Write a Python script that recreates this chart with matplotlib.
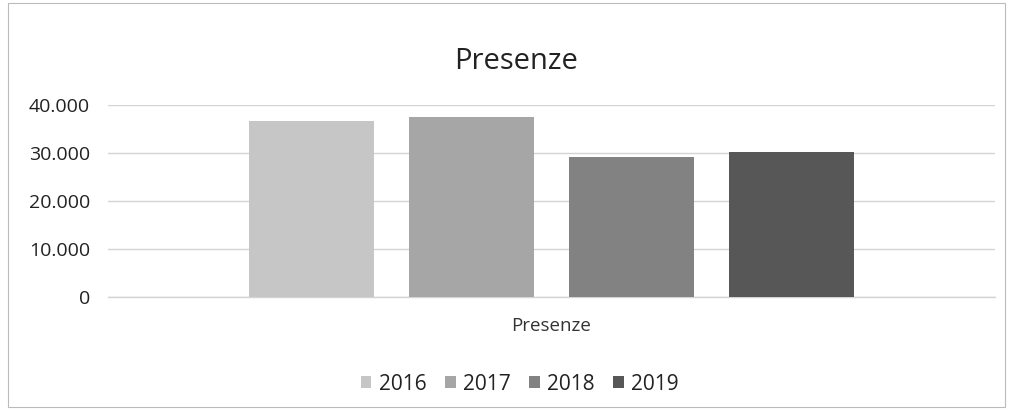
import matplotlib.pyplot as plt
from matplotlib.patches import Rectangle
from matplotlib.ticker import FuncFormatter

# Data
years = ["2016", "2017", "2018", "2019"]
presenze = [36700, 37400, 29100, 30200]
bar_colors = ["#c6c6c6", "#a6a6a6", "#828282", "#575757"]
y_ticks = [0, 10000, 20000, 30000, 40000]

plt.rcParams['font.family'] = ['Open Sans', 'DejaVu Sans']

fig = plt.figure(figsize=(10.09, 4.11), dpi=100)
ax = fig.add_axes([0.107, 0.277, 0.879, 0.468])

# one bar per year, all in the single "Presenze" category
for i, (year, val) in enumerate(zip(years, presenze)):
    ax.bar(i, val, width=0.78, color=bar_colors[i], label=year, zorder=3)

ax.set_xlim(-1.272, 4.272)
ax.set_ylim(0, 40000)
ax.set_yticks(y_ticks)
ax.yaxis.set_major_formatter(FuncFormatter(lambda v, p: f"{int(v):,}".replace(",", ".")))
ax.set_xticks([])
ax.tick_params(axis="y", length=0, labelsize=14, pad=13, labelcolor="#222222")
ax.grid(axis="y", color="#d4d4d4", linewidth=1, zorder=0)
ax.axhline(0, color="#d4d4d4", linewidth=1, zorder=1, clip_on=False)
for s in ax.spines.values():
    s.set_visible(False)

ax.set_xlabel("Presenze", fontsize=13.5, color="#333333", labelpad=14)
# title sits a bit left of the plot centre, like in the original
ax.set_title("Presenze", fontsize=21, color="#222222", pad=26, x=0.46)

ax.legend(loc="upper center", bbox_to_anchor=(0.4645, -0.30), ncol=4, frameon=False,
          fontsize=15, handlelength=0.5, handleheight=0.5, handletextpad=0.35,
          columnspacing=0.9, labelcolor="#222222")

# light border around the whole chart
fig.patches.append(Rectangle((0.008, 0.01), 0.988, 0.982, transform=fig.transFigure,
                             fill=False, edgecolor="#bbbbbb", linewidth=0.8))

fig.savefig("out.png", dpi=100)
